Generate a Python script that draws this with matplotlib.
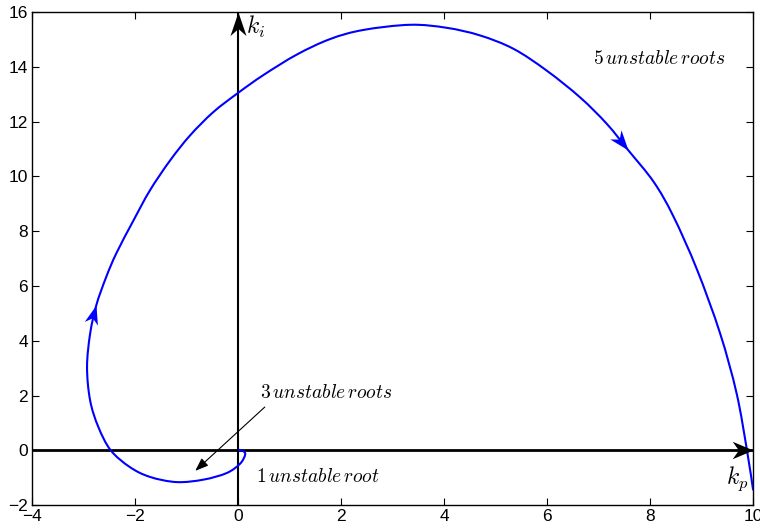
import numpy as np
import matplotlib
matplotlib.use("Agg")
import matplotlib.pyplot as plt
from matplotlib.path import Path
from matplotlib.patches import PathPatch

plt.rcParams['font.family'] = ['Liberation Sans', 'DejaVu Sans']
plt.rcParams['mathtext.fontset'] = 'cm'

# Граница устойчивости в плоскости (kp, ki)
kp = [0.0, 0.09, 0.14, 0.04, -0.22, -0.67, -1.19, -1.71, -2.10, -2.47,
      -2.71, -2.87, -2.93, -2.87, -2.75, -2.56, -2.36, -2.03, -1.71, -1.32,
      -0.93, -0.48, 0.0, 0.49, 1.14, 1.79, 2.43, 3.34, 4.05, 4.70,
      5.35, 5.99, 6.64, 7.16, 7.58, 8.07, 8.45, 8.91, 9.36, 9.68, 9.88, 10.0]
ki = [0.02, -0.02, -0.15, -0.49, -0.83, -1.07, -1.16, -0.97, -0.61, 0.0,
      0.85, 1.82, 3.04, 4.26, 5.30, 6.32, 7.20, 8.39, 9.49, 10.58,
      11.50, 12.35, 13.05, 13.70, 14.45, 15.02, 15.35, 15.54, 15.43, 15.15,
      14.66, 13.87, 12.89, 11.92, 10.95, 9.80, 8.55, 6.60, 4.26, 2.07, 0.0, -1.46]

# точки, где ставятся стрелки направления
arrow_idx = [14, 34]

fig = plt.figure(figsize=(7.6, 5.3), dpi=100)
ax = fig.add_axes([0.042, 0.047, 0.949, 0.930])
ax.set_xlim(-4, 10)
ax.set_ylim(-2, 16)
ax.set_xticks(np.arange(-4, 11, 2))
ax.set_yticks(np.arange(-2, 17, 2))
ax.tick_params(direction='in', top=True, right=True, length=5, labelsize=12.5, pad=3)
for s in ax.spines.values():
    s.set_linewidth(1.0)


def make_head(w):
    # наконечник стрелки в стиле MATLAB (вогнутый)
    return Path([(0, 0), (-1, w), (-0.7, 0), (-1, -w), (0, 0)],
                [Path.MOVETO, Path.LINETO, Path.LINETO, Path.LINETO, Path.CLOSEPOLY])


def draw_head(x, y, dx, dy, color, size, w):
    p1 = ax.transData.transform((x, y))
    p2 = ax.transData.transform((x + dx, y + dy))
    ang = np.degrees(np.arctan2(p2[1] - p1[1], p2[0] - p1[0]))
    m = make_head(w).transformed(matplotlib.transforms.Affine2D().rotate_deg(ang))
    ax.plot(x, y, marker=m, markersize=size, color=color, markeredgewidth=0,
            zorder=5, clip_on=False)


def smooth_path(xs, ys):
    # гладкая кривая Безье через заданные точки (Catmull-Rom в экранных координатах)
    pts = ax.transData.transform(np.column_stack([xs, ys]))
    verts = [pts[0]]
    codes = [Path.MOVETO]
    n = len(pts)
    for i in range(n - 1):
        p0 = pts[max(i - 1, 0)]
        p1 = pts[i]
        p2 = pts[i + 1]
        p3 = pts[min(i + 2, n - 1)]
        verts += [p1 + (p2 - p0) / 6, p2 - (p3 - p1) / 6, p2]
        codes += [Path.CURVE4] * 3
    return Path(ax.transData.inverted().transform(np.array(verts)), codes)


# оси kp и ki
ax.plot([-4, 10], [0, 0], color='k', lw=2, zorder=3)
ax.plot([0, 0], [-2, 16], color='k', lw=1.5, zorder=3)
draw_head(10, 0, 1, 0, 'k', 30, 0.42)
draw_head(0, 16, 0, 1, 'k', 34, 0.34)

ax.add_patch(PathPatch(smooth_path(kp, ki), facecolor='none', edgecolor=(0, 0, 1),
                       lw=1.5, zorder=4))
for i in arrow_idx:
    draw_head(kp[i], ki[i], kp[i + 1] - kp[i - 1], ki[i + 1] - ki[i - 1], (0, 0, 1), 29, 0.36)

ax.annotate('', xy=(-0.83, -0.75), xytext=(0.52, 1.58),
            arrowprops=dict(arrowstyle='-|>,head_length=0.8,head_width=0.3',
                            color='k', lw=0.8, shrinkA=0, shrinkB=0))

ax.text(1.72, 2.1, r'$3\,unstable\,roots$', fontsize=14, ha='center', va='center')
ax.text(1.55, -0.98, r'$1\,unstable\,root$', fontsize=14, ha='center', va='center')
ax.text(8.17, 14.3, r'$5\,unstable\,roots$', fontsize=14, ha='center', va='center')
ax.text(0.35, 15.45, r'$k_i$', fontsize=17, ha='center', va='center')
ax.text(9.7, -1.05, r'$k_p$', fontsize=17, ha='center', va='center')

fig.savefig('out.png', dpi=100)
